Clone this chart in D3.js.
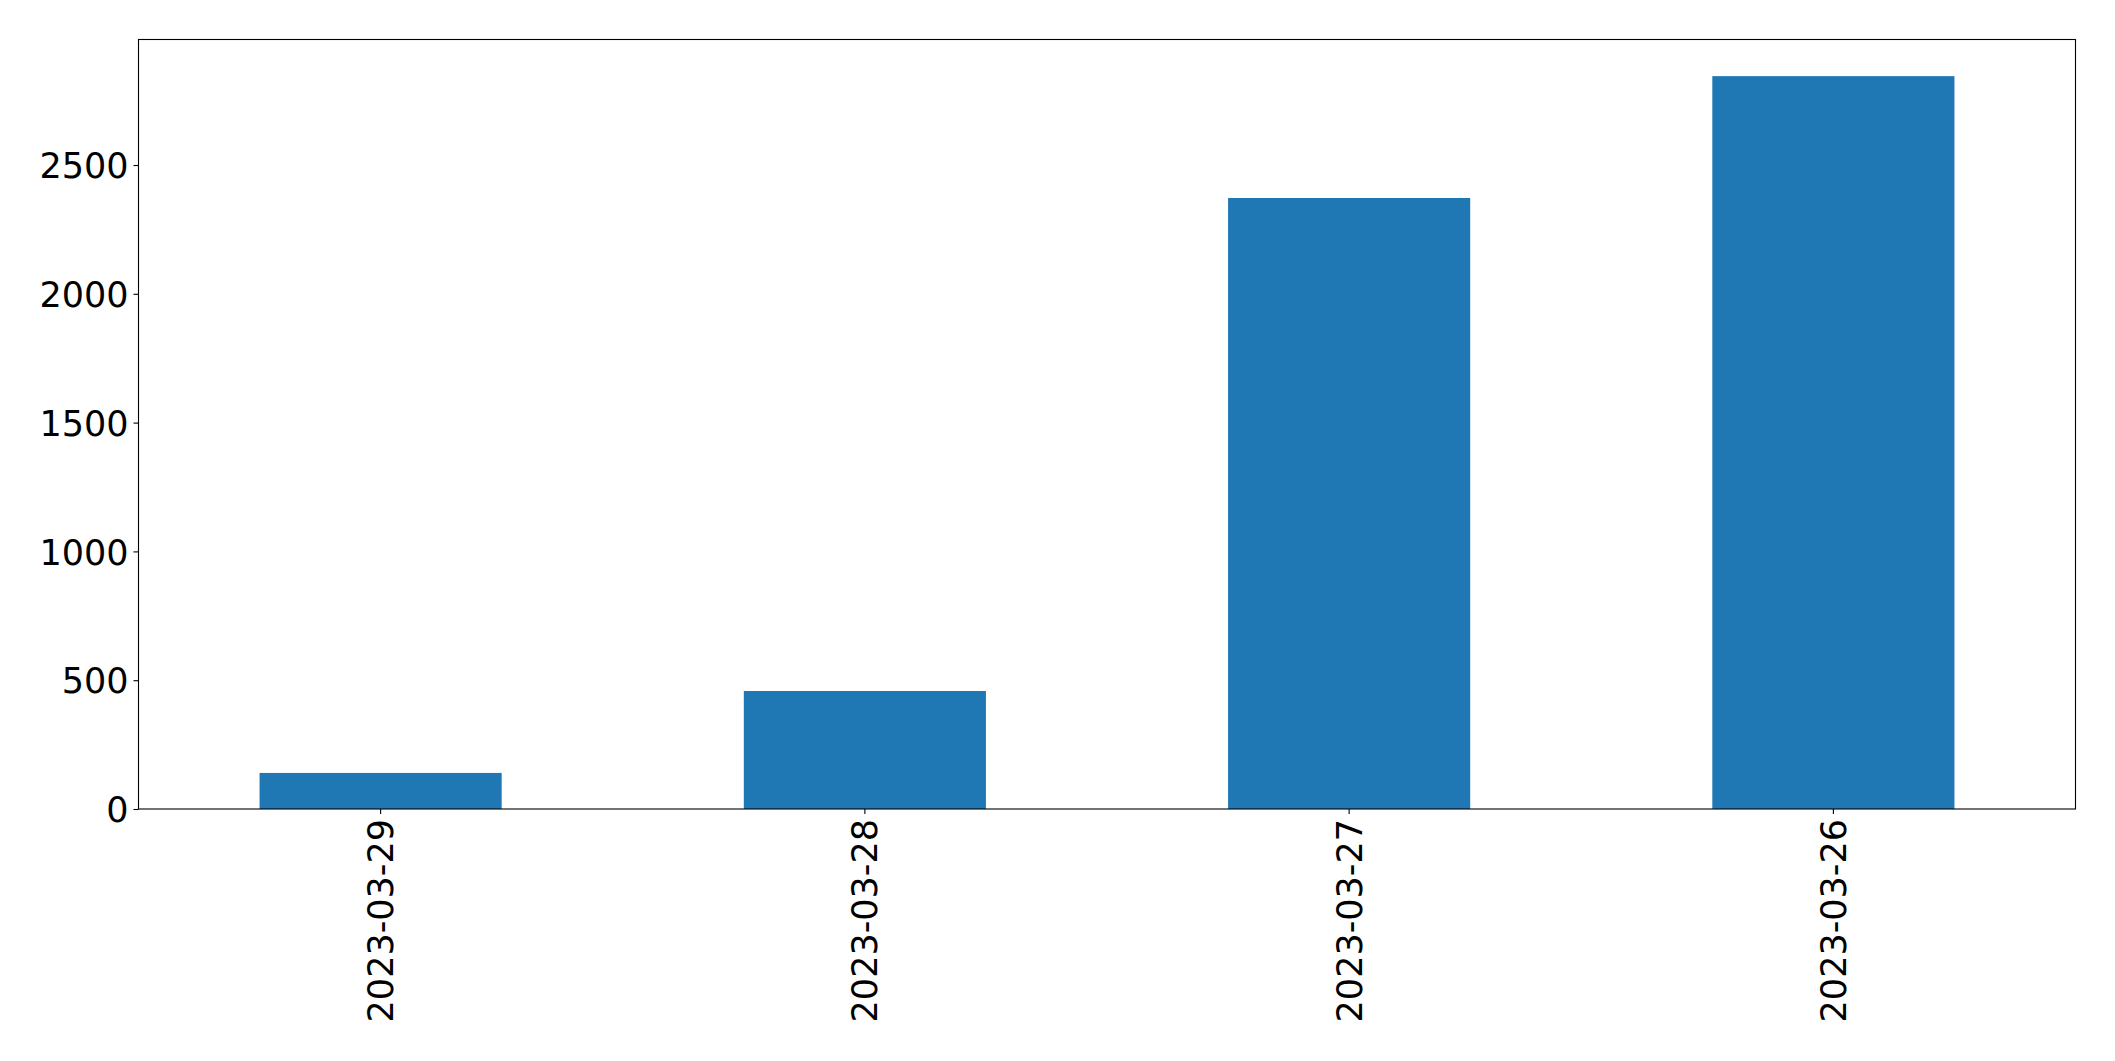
<!DOCTYPE html>
<html>
<head>
<meta charset="utf-8">
<script src="https://cdn.jsdelivr.net/npm/d3@7"></script>
<style>
  html, body { margin: 0; padding: 0; background: #fff; }
  svg { display: block; }
  text { font-family: "DejaVu Sans", sans-serif; fill: #000; }
</style>
</head>
<body>
<svg id="chart" width="2115" height="1061"></svg>
<script>
const categories = ["2023-03-29", "2023-03-28", "2023-03-27", "2023-03-26"];
const values = [140, 458, 2372, 2845];
const yTicks = [0, 500, 1000, 1500, 2000, 2500];

const W = 2115, H = 1061;
const margin = { left: 138.5, right: W - 2075.5, top: 39.5, bottom: H - 809 };
const svg = d3.select("#chart");
const iw = W - margin.left - margin.right;
const ih = H - margin.top - margin.bottom;
const g = svg.append("g").attr("transform", `translate(${margin.left},${margin.top})`);

const x = d3.scaleBand().domain(categories).range([0, iw]).paddingInner(0.5).paddingOuter(0.25);
const y = d3.scaleLinear().domain([0, d3.max(values) * 1.05]).range([ih, 0]);

g.selectAll("rect.bar").data(values).join("rect")
  .attr("class", "bar")
  .attr("x", (d, i) => x(categories[i]))
  .attr("width", x.bandwidth())
  .attr("y", d => y(d))
  .attr("height", d => ih - y(d))
  .attr("fill", "#1f77b4");

const fs = 35;
const yAxis = g.append("g").call(d3.axisLeft(y).tickValues(yTicks).tickSize(5).tickPadding(5).tickFormat(d3.format("d")));
yAxis.select(".domain").remove();
yAxis.selectAll("line").attr("stroke", "#000").attr("stroke-width", 1.1);
yAxis.selectAll("text").style("font-size", fs + "px").attr("dy", "0.36em");

const xAxis = g.append("g").attr("transform", `translate(0,${ih})`)
  .call(d3.axisBottom(x).tickSize(5).tickPadding(5));
xAxis.select(".domain").remove();
xAxis.selectAll("line").attr("stroke", "#000").attr("stroke-width", 1.1);
xAxis.selectAll("text")
  .style("font-size", fs + "px")
  .attr("text-anchor", "end")
  .attr("dy", "0.36em")
  .attr("x", 0)
  .attr("y", 0)
  .attr("transform", "translate(0,10) rotate(-90)");

g.append("rect").attr("x", 0).attr("y", 0).attr("width", iw).attr("height", ih)
  .attr("fill", "none").attr("stroke", "#000").attr("stroke-width", 1.1);
</script>
</body>
</html>
